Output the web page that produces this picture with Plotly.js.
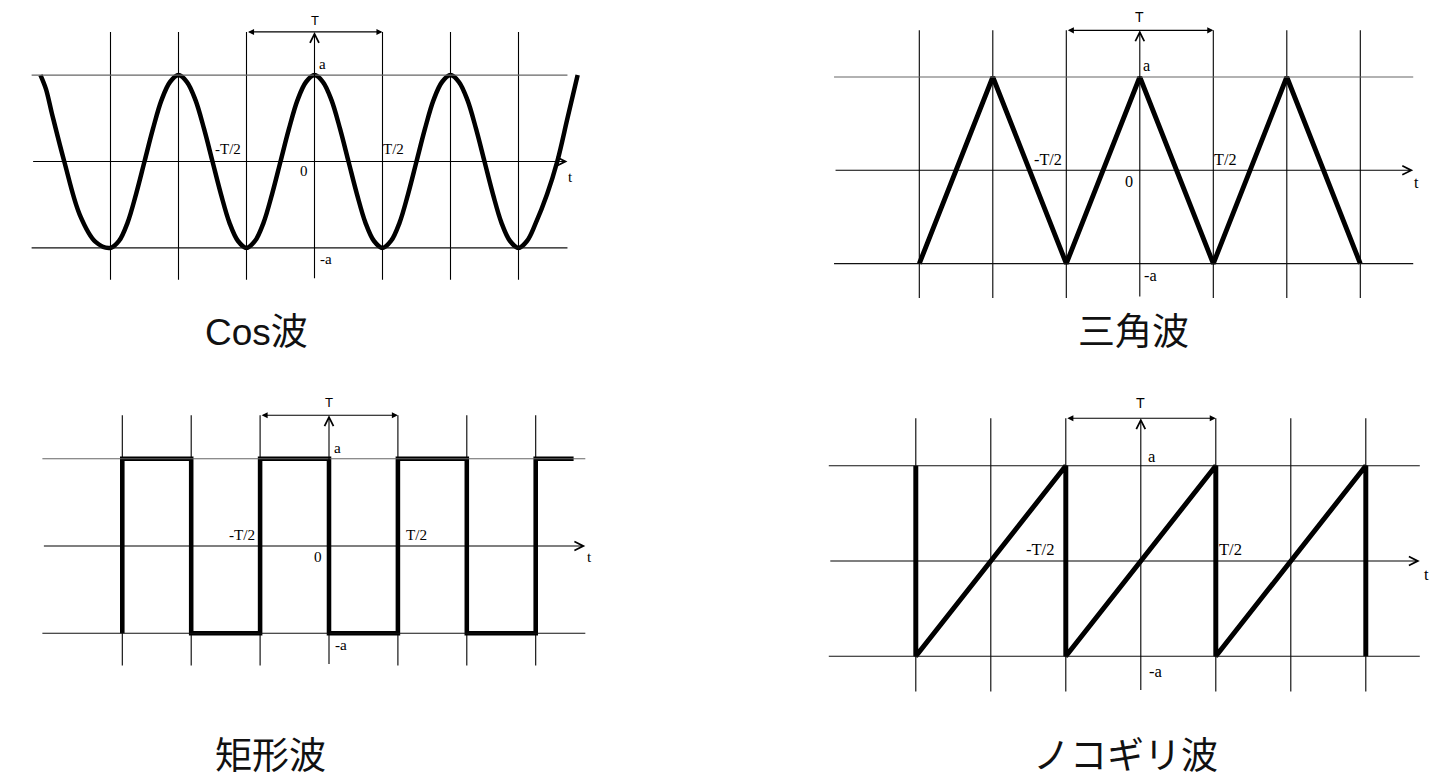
<!DOCTYPE html>
<html><head><meta charset="utf-8">
<script src="https://cdn.plot.ly/plotly-3.0.1.min.js"></script>
<style>html,body{margin:0;padding:0;background:#fff;} #chart{width:1452px;height:782px;}</style>
</head><body><div id="chart"></div>
<script>
// ---------- data (t in units of T/2, v in units of a) ----------
const gridT = [-3, -2, -1, 1, 2, 3];          // vertical guide lines
const levelV = [1, -1];                        // horizontal guide lines (a, -a)
const titles = ['Cos波', '三角波', '矩形波', 'ノコギリ波'];
const labelText = ['T', 'a', '-a', '0', '-T/2', 'T/2', 't'];

const cosT = [-4.03,-3.95,-3.86,-3.68,-3.45,-3.22,-3,
  -2.875,-2.75,-2.625,-2.5,-2.375,-2.25,-2.125,-2,
  -1.875,-1.75,-1.625,-1.5,-1.375,-1.25,-1.125,-1,
  -0.875,-0.75,-0.625,-0.5,-0.375,-0.25,-0.125,0,
  0.125,0.25,0.375,0.5,0.625,0.75,0.875,1,
  1.125,1.25,1.375,1.5,1.625,1.75,1.875,2,
  2.125,2.25,2.375,2.5,2.625,2.75,2.875,3,
  3.125,3.25,3.42,3.57,3.72,3.87];
const cosV = [1,0.84,0.55,0,-0.62,-0.93,-1,
  -0.92,-0.71,-0.38,0,0.38,0.71,0.92,1,
  0.92,0.71,0.38,0,-0.38,-0.71,-0.92,-1,
  -0.92,-0.71,-0.38,0,0.38,0.71,0.92,1,
  0.92,0.71,0.38,0,-0.38,-0.71,-0.92,-1,
  -0.92,-0.71,-0.38,0,0.38,0.71,0.92,1,
  0.92,0.71,0.38,0,-0.38,-0.71,-0.92,-1,
  -0.92,-0.72,-0.38,0,0.5,1];

const triT = [-3,-2,-1,0,1,2,3];
const triV = [-1,1,-1,1,-1,1,-1];

const sqT = [-3,-3,-2,-2,-1,-1,0,0,1,1,2,2,3,3,3.55];
const sqV = [-1,1,1,-1,-1,1,1,-1,-1,1,1,-1,-1,1,1];

const sawT = [-3,-3,-1,-1,1,1,3,3];
const sawV = [1,-1,1,-1,1,-1,1,-1];

// ---------- layout geometry (pixels) ----------
const W = 1452, H = 782;
const hL = -4.16, hR = 3.72;      // extent of horizontal lines
const vBot = -1.37, vTop = 1.5;   // extent of vertical lines

const panels = [
  {t: cosT, v: cosV, spline: true, cx: 314.5, ux: 68, cy: 161.5, uy: 86.4, tx: 256.5, ty: 333, topColor: '#666',
   lab: {T:[0,1.63], a:[0.055,1.125], na:[0.06,-1.13], z:[-0.08,-0.11], mh:[-1.06,0.14], ph:[0.99,0.14], tt:[3.72,-0.185]}},
  {t: triT, v: triV, spline: false, cx: 1139.8, ux: 73.5, cy: 170.3, uy: 93.3, tx: 1133, ty: 332, topColor: '#666',
   lab: {T:[0,1.646], a:[0.03,1.12], na:[0.045,-1.133], z:[-0.08,-0.13], mh:[-1.04,0.11], ph:[0.99,0.11], tt:[3.72,-0.133]}},
  {t: sqT, v: sqV, spline: false, cx: 329, ux: 68.9, cy: 546, uy: 87.2, tx: 270, ty: 756, topColor: '#666',
   lab: {T:[0,1.643], a:[0.058,1.124], na:[0.07,-1.135], z:[-0.08,-0.123], mh:[-1.055,0.135], ph:[1.1,0.135], tt:[3.73,-0.126]}},
  {t: sawT, v: sawV, spline: false, cx: 1140.8, ux: 75, cy: 561, uy: 95.2, tx: 1125, ty: 756, topColor: '#111',
   lab: {T:[0,1.663], a:[0.08,1.10], na:[0.09,-1.16], z:null, mh:[-1.14,0.123], ph:[1.03,0.123], tt:[3.76,-0.147]}}
];

const serif = 'Liberation Serif, Times New Roman, serif';
const sans = 'Liberation Sans, Arial, sans-serif';
const titleFont = 'Liberation Sans, Noto Sans CJK JP, sans-serif';

const data = [], shapes = [], annotations = [];
const layout = {
  width: W, height: H, autosize: false,
  margin: {l: 0, r: 0, t: 0, b: 0},
  paper_bgcolor: '#fff', plot_bgcolor: 'rgba(0,0,0,0)',
  showlegend: false, hovermode: false
};

panels.forEach((p, i) => {
  const n = i === 0 ? '' : String(i + 1);
  const xa = 'x' + n, ya = 'y' + n;
  let x0 = Math.max(0, p.cx - 4.6 * p.ux), x1 = Math.min(W, p.cx + 4.3 * p.ux);
  let yT = Math.max(0, p.cy - 1.85 * p.uy), yB = Math.min(H, p.cy + 1.7 * p.uy);
  layout['xaxis' + n] = {domain: [x0 / W, x1 / W], range: [(x0 - p.cx) / p.ux, (x1 - p.cx) / p.ux],
    visible: false, fixedrange: true, anchor: ya};
  layout['yaxis' + n] = {domain: [1 - yB / H, 1 - yT / H], range: [(p.cy - yB) / p.uy, (p.cy - yT) / p.uy],
    visible: false, fixedrange: true, anchor: xa};
  const s = p.ux / 68;

  // guide lines
  gridT.forEach(t => shapes.push({type: 'line', xref: xa, yref: ya, x0: t, x1: t, y0: vBot, y1: vTop,
    line: {color: '#000', width: 1.1}}));
  levelV.forEach(v => shapes.push({type: 'line', xref: xa, yref: ya, x0: hL, x1: hR, y0: v, y1: v,
    line: {color: v > 0 ? p.topColor : '#111', width: 1.1}}));

  // axes with arrows
  annotations.push({xref: xa, yref: ya, axref: xa, ayref: ya, x: hR, y: 0, ax: hL, ay: 0, text: '',
    showarrow: true, arrowhead: 5, arrowsize: 1.6, arrowwidth: 1.1, arrowcolor: '#000', standoff: 0});
  annotations.push({xref: xa, yref: ya, axref: xa, ayref: ya, x: 0, y: vTop, ax: 0, ay: vBot, text: '',
    showarrow: true, arrowhead: 5, arrowsize: 1.6, arrowwidth: 1.1, arrowcolor: '#000', standoff: 0});
  // period arrow
  annotations.push({xref: xa, yref: ya, axref: xa, ayref: ya, x: 1, y: vTop, ax: -1, ay: vTop, text: '',
    showarrow: true, arrowhead: 2, startarrowhead: 2, arrowside: 'end+start', arrowsize: 1.1, startarrowsize: 1.1,
    arrowwidth: 1.1, arrowcolor: '#000', standoff: 0, startstandoff: 0});

  // labels
  const L = p.lab;
  const add = (txt, pos, xanchor, font, size) => {
    if (!pos) return;
    annotations.push({xref: xa, yref: ya, x: pos[0], y: pos[1], text: txt, showarrow: false,
      xanchor: xanchor, yanchor: 'middle', font: {family: font, size: size, color: '#000'}, borderpad: 0});
  };
  add(labelText[0], L.T, 'center', sans, 13 * s);
  add(labelText[1], L.a, 'left', serif, 15 * s);
  add(labelText[2], L.na, 'left', serif, 15 * s);
  add(labelText[3], L.z, 'right', serif, 15 * s);
  add(labelText[4], L.mh, 'right', serif, 15 * s);
  add(labelText[5], L.ph, 'left', serif, 15 * s);
  add(labelText[6], L.tt, 'left', serif, 15 * s);

  // waveform
  data.push({type: 'scatter', mode: 'lines', x: p.t, y: p.v, xaxis: xa, yaxis: ya,
    line: {color: '#000', width: 4.5 * s, shape: p.spline ? 'spline' : 'linear', smoothing: 1},
    hoverinfo: 'skip', cliponaxis: false});

  // title
  annotations.push({xref: 'paper', yref: 'paper', x: p.tx / W, y: 1 - p.ty / H, text: titles[i], showarrow: false,
    xanchor: 'center', yanchor: 'middle', font: {family: titleFont, size: 37, color: '#111'}});
});

layout.shapes = shapes;
layout.annotations = annotations;
Plotly.newPlot('chart', data, layout, {staticPlot: true, displayModeBar: false});
</script>
</body></html>
